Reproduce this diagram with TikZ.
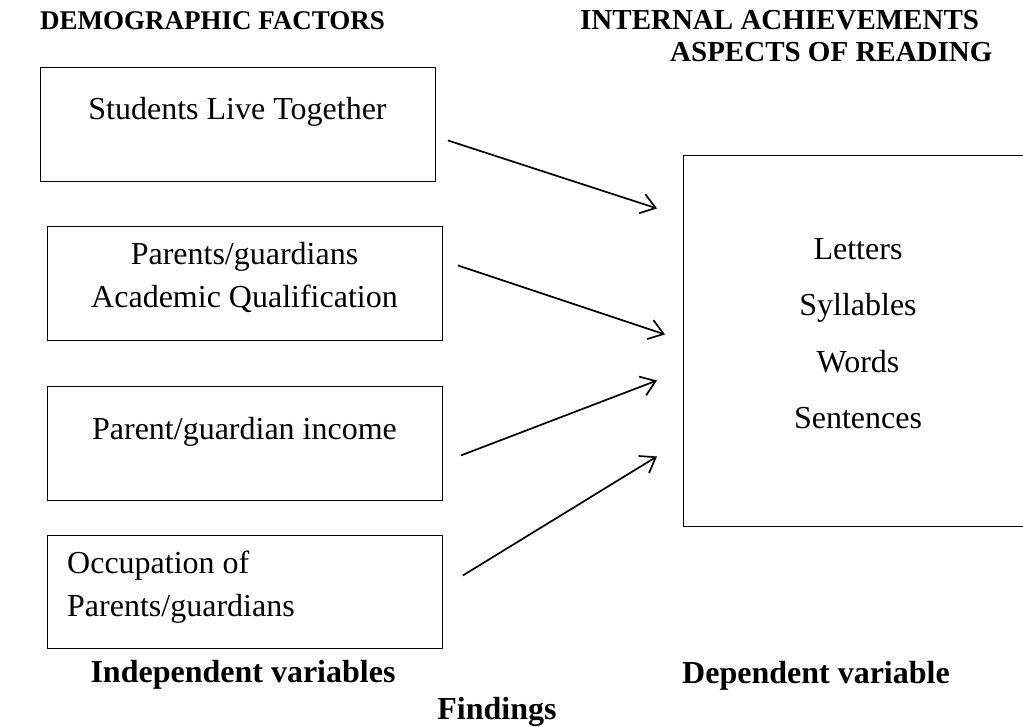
\documentclass[tikz,border=0pt]{standalone}
\usepackage{fontspec}
\setmainfont{Liberation Serif}
\usetikzlibrary{arrows.meta, positioning}

\begin{document}
\begin{tikzpicture}[x=1pt, y=-1pt]
        % Define styles
        \tikzset{
            box/.style={draw, line width=0.9pt, rectangle, anchor=north west, inner sep=0pt},
            txt/.style={font=\fontsize{32}{38}\selectfont, inner sep=0pt},
            head/.style={font=\fontsize{29}{34}\selectfont\bfseries, inner sep=0pt},
            foot/.style={font=\fontsize{32}{38}\selectfont\bfseries, inner sep=0pt},
            link/.style={-{Straight Barb[length=14pt, width=20pt]}, line width=1.7pt}
        }
        \useasboundingbox (0,0) rectangle (1023,727);
        % Headings
        \node[head, font=\fontsize{27}{32}\selectfont\bfseries, anchor=base west] (demo) at (40,30) {DEMOGRAPHIC FACTORS};
        \node[head, anchor=base west] (intern) at (580,30) {INTERNAL ACHIEVEMENTS};
        \node[head, anchor=base west] (aspect) at (670,62) {ASPECTS OF READING};
        % Independent variables (left boxes)
        \node[box, minimum width=395pt, minimum height=114pt] (live) at (40,67) {};
        \node[txt, anchor=base] (live-t) at (237.5,120) {Students Live Together};
        \node[box, minimum width=395pt, minimum height=114pt] (qual) at (47,226) {};
        \node[txt, anchor=base] (qual-t1) at (244.5,265) {Parents/guardians};
        \node[txt, anchor=base] (qual-t2) at (244.5,308) {Academic Qualification};
        \node[box, minimum width=395pt, minimum height=114pt] (inc) at (47,386) {};
        \node[txt, anchor=base] (inc-t) at (244.5,439) {Parent/guardian income};
        \node[box, minimum width=395pt, minimum height=113pt] (occ) at (47,535) {};
        \node[txt, anchor=base west] (occ-t1) at (67,573) {Occupation of};
        \node[txt, anchor=base west] (occ-t2) at (67,616) {Parents/guardians};
        % Dependent variable (right box, runs off the page)
        \node[box, minimum width=360pt, minimum height=371pt] (read) at (683,155) {};
        \foreach \w [count=\i] in {Letters, Syllables, Words, Sentences}
            \node[txt, anchor=base] (read-\i) at (858,{260+56*(\i-1)}) {\w};
        % Arrow ends
        \coordinate (live-out) at ([shift={(12,16)}]live.east);
        \coordinate (qual-out) at ([shift={(15,-18)}]qual.east);
        \coordinate (inc-out) at ([shift={(18,12)}]inc.east);
        \coordinate (occ-out) at ([shift={(20,-16.5)}]occ.east);
        \coordinate (read-in1) at ([shift={(-26,-132.5)}]read.west);
        \coordinate (read-in2) at ([shift={(-18,-6.5)}]read.west);
        \coordinate (read-in3) at ([shift={(-26,39.5)}]read.west);
        \coordinate (read-in4) at ([shift={(-26,115.5)}]read.west);
        % Arrows
        \draw[link] (live-out) -- (read-in1);
        \draw[link] (qual-out) -- (read-in2);
        \draw[link] (inc-out) -- (read-in3);
        \draw[link] (occ-out) -- (read-in4);
        % Captions
        \node[foot, anchor=base] (indep) at (243,682) {Independent variables};
        \node[foot, anchor=base] (dep) at (816,683) {Dependent variable};
        \node[foot, anchor=base] (find) at (497,719) {Findings};
    \end{tikzpicture}
\end{document}
